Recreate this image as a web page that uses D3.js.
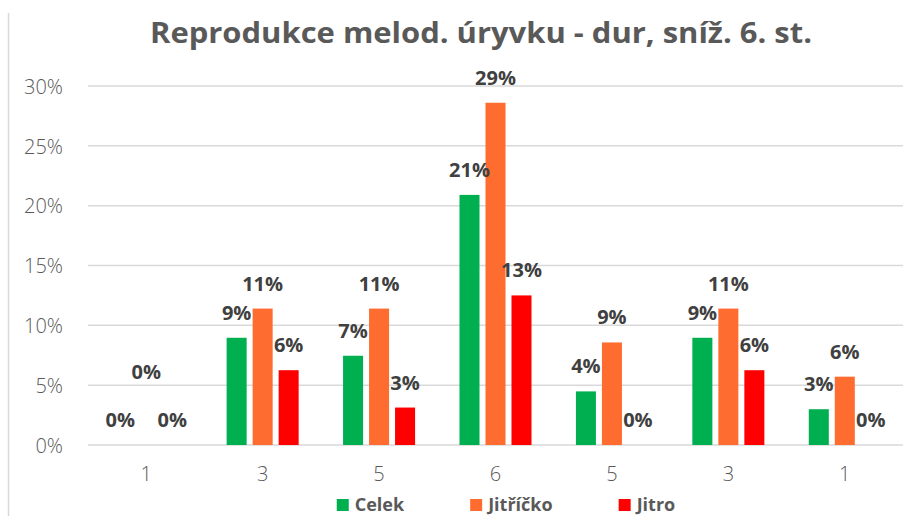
<!DOCTYPE html>
<html lang="cs">
<head>
  <meta charset="UTF-8" />
  <title>Reprodukce melod. úryvku</title>
  <script src="https://d3js.org/d3.v7.min.js"></script>
  <style>
    html, body { margin: 0; padding: 0; background: #fff; }
    svg { display: block; font-family: "Open Sans", sans-serif; }
  </style>
</head>
<body>
  <svg id="chart" width="922" height="516"></svg>

  <script>
    // chart data
    const categories = ["1", "3", "5", "6", "5", "3", "1"];
    const seriesNames = ["Celek", "Jitříčko", "Jitro"];
    const celek    = [0, 0.0896, 0.0746, 0.209, 0.0448, 0.0896, 0.0299];
    const jitricko = [0, 0.114, 0.114, 0.286, 0.0857, 0.114, 0.0571];
    const jitro    = [0, 0.0625, 0.0313, 0.125, 0, 0.0625, 0];
    const yTicks = [0, 0.05, 0.10, 0.15, 0.20, 0.25, 0.30];

    const colors = ["#00B050", "#FF6C30", "#FF0000"];
    const values = [celek, jitricko, jitro];

    const svg = d3.select("#chart");
    const plot = { left: 88, right: 903, top: 86, bottom: 445 };

    // light frame line on the left
    svg.append("line")
      .attr("x1", 8.5).attr("x2", 8.5)
      .attr("y1", 13).attr("y2", 516)
      .attr("stroke", "#D9D9D9").attr("stroke-width", 1.5);

    // title
    svg.append("text")
      .attr("x", 481)
      .attr("y", 43)
      .attr("text-anchor", "middle")
      .attr("textLength", 662)
      .attr("lengthAdjust", "spacingAndGlyphs")
      .style("font-size", "28px")
      .style("font-weight", "bold")
      .style("fill", "#595959")
      .text("Reprodukce melod. úryvku - dur, sníž. 6. st.");

    const x0 = d3.scaleBand()
      .domain(d3.range(categories.length))
      .range([plot.left, plot.right]);

    const x1 = d3.scaleBand()
      .domain(d3.range(seriesNames.length))
      .range([0, x0.bandwidth()])
      .paddingInner(0.23)
      .paddingOuter(0.854);

    const y = d3.scaleLinear()
      .domain([0, 0.30])
      .range([plot.bottom, plot.top]);

    // gridlines
    svg.append("g")
      .selectAll("line")
      .data(yTicks)
      .join("line")
      .attr("x1", plot.left).attr("x2", plot.right)
      .attr("y1", d => y(d)).attr("y2", d => y(d))
      .attr("stroke", "#D9D9D9")
      .attr("stroke-width", 1.5);

    // y axis labels
    const yAxis = svg.append("g")
      .attr("transform", `translate(${plot.left - 25},0)`)
      .call(d3.axisLeft(y).tickValues(yTicks).tickFormat(d3.format(".0%")).tickSize(0).tickPadding(0));
    yAxis.select(".domain").remove();
    yAxis.selectAll("text")
      .attr("dy", "0.36em")
      .style("font-family", "'Open Sans', sans-serif")
      .style("font-size", "20px")
      .style("font-weight", "300")
      .style("fill", "#595959");

    // x axis labels
    const xAxis = svg.append("g")
      .attr("transform", `translate(0,${plot.bottom + 22})`)
      .call(d3.axisBottom(x0).tickFormat(i => categories[i]).tickSize(0).tickPadding(0));
    xAxis.select(".domain").remove();
    xAxis.selectAll("text")
      .style("font-family", "'Open Sans', sans-serif")
      .style("font-size", "20px")
      .style("font-weight", "300")
      .style("fill", "#595959");

    // bars
    const rows = [];
    values.forEach((vals, s) => {
      vals.forEach((v, i) => rows.push({ s, i, v }));
    });

    svg.append("g")
      .selectAll("rect")
      .data(rows)
      .join("rect")
      .attr("x", d => x0(d.i) + x1(d.s))
      .attr("y", d => y(d.v))
      .attr("width", x1.bandwidth())
      .attr("height", d => y(0) - y(d.v))
      .attr("fill", d => colors[d.s]);

    // the Jitříčko zero label on the first category was moved up in the original
    const lifted = d => d.s === 1 && d.i === 0 ? 48 : 0;

    svg.append("g")
      .selectAll("text")
      .data(rows)
      .join("text")
      .attr("x", d => x0(d.i) + x1(d.s) + x1.bandwidth() / 2)
      .attr("y", d => y(d.v) - 18 - lifted(d))
      .attr("text-anchor", "middle")
      .style("font-size", "20px")
      .style("font-weight", "bold")
      .style("fill", "#404040")
      .text(d => d3.format(".0%")(d.v));

    // legend
    const legend = svg.append("g");
    let lx = 0;
    seriesNames.forEach((name, s) => {
      const item = legend.append("g").attr("transform", `translate(${lx},0)`);
      item.append("rect")
        .attr("x", 0).attr("y", 499)
        .attr("width", 12).attr("height", 12)
        .attr("fill", colors[s]);
      const t = item.append("text")
        .attr("x", 18).attr("y", 511)
        .style("font-size", "18px")
        .style("font-weight", "bold")
        .style("fill", "#595959")
        .text(name);
      lx += 18 + t.node().getComputedTextLength() + 66;
    });
    const legendWidth = lx - 66;
    legend.attr("transform", `translate(${506 - legendWidth / 2},0)`);
  </script>
</body>
</html>
